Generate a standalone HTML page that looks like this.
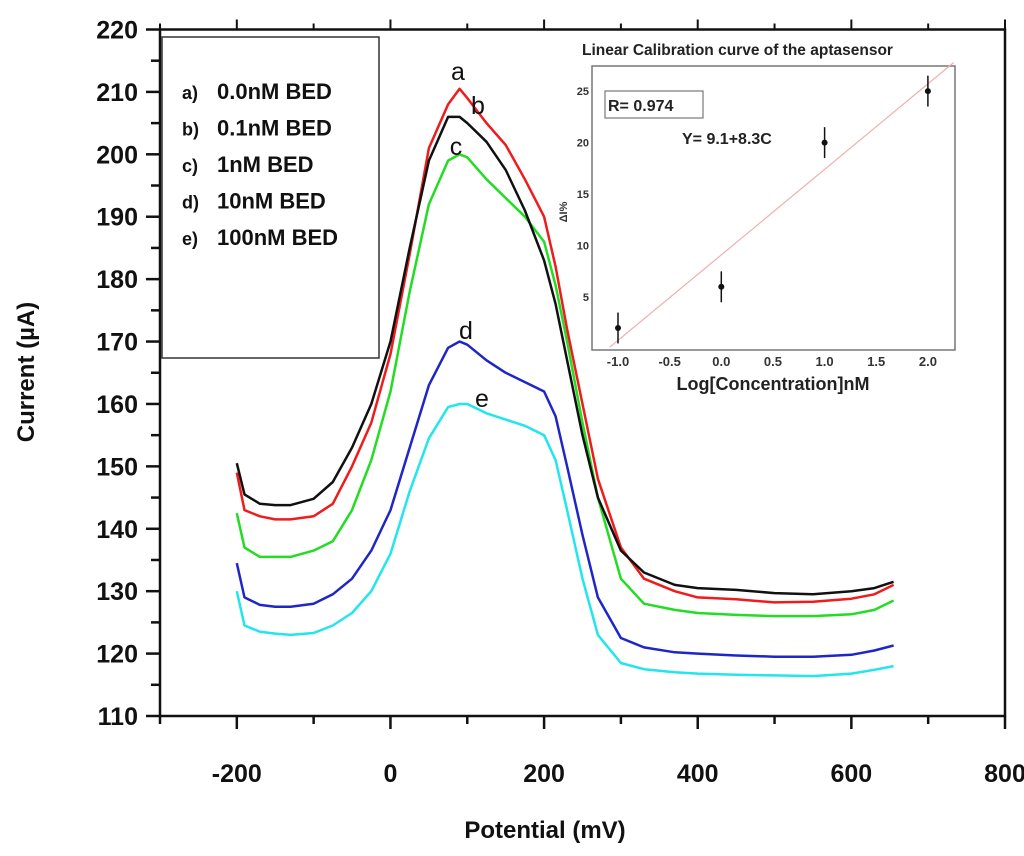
<!DOCTYPE html>
<html><head><meta charset="utf-8"><style>
body{margin:0;background:#fff;}
svg{display:block;font-family:"Liberation Sans",sans-serif;}
</style></head><body>
<svg id="chart" width="1024" height="856" viewBox="0 0 1024 856">
<g id="main"></g>
<g id="inset"></g>
</svg>
<script>
const potentials=[-200,-190,-170,-150,-130,-100,-75,-50,-25,0,25,50,75,90,100,125,150,175,200,215,230,250,270,300,330,370,400,450,500,550,600,630,655];
const seriesA=[149,143,142,141.5,141.5,142,144,150,157,168,184,201,208,210.5,209,205,201.5,196,190,182,172,160,148,137,132,130,129,128.7,128.2,128.3,128.8,129.5,131];
const seriesB=[150.5,145.5,144,143.8,143.8,144.8,147.5,153,160,170,185,199,206,206,205,202,197.5,191,183,176,167,155,145,136.5,133,131,130.5,130.2,129.7,129.5,130,130.5,131.5];
const seriesC=[142.5,137,135.5,135.5,135.5,136.5,138,143,151,162,178,192,199,200,199.5,196,193,190,186,179,170,157,145,132,128,127,126.5,126.2,126,126,126.3,127,128.5];
const seriesD=[134.5,129,127.8,127.5,127.5,128,129.5,132,136.5,143,153,163,169,170,169.5,167,165,163.5,162,158,150,139,129,122.5,121,120.2,120,119.7,119.5,119.5,119.8,120.5,121.3];
const seriesE=[130,124.5,123.5,123.2,123,123.3,124.5,126.5,130,136,146,154.5,159.5,160,160,158.5,157.5,156.5,155,151,143,132,123,118.5,117.5,117,116.8,116.6,116.5,116.4,116.8,117.4,118];
const xTicks=[-200,0,200,400,600,800];
const yTicks=[110,120,130,140,150,160,170,180,190,200,210,220];
const legendLabels=["0.0nM BED","0.1nM BED","1nM BED","10nM BED","100nM BED"];
const legendKeys=["a)","b)","c)","d)","e)"];
const insetX=[-1,0,1,2];
const insetY=[2,6,20,25];
const insetErr=[1.5,1.5,1.5,1.5];
const insetXTicks=[-1.0,-0.5,0.0,0.5,1.0,1.5,2.0];
const insetYTicks=[5,10,15,20,25];
const fitIntercept=9.1, fitSlope=8.3;

const NS="http://www.w3.org/2000/svg";
function mk(parent,tag,attrs,text){const e=document.createElementNS(NS,tag);for(const k in attrs)e.setAttribute(k,attrs[k]);if(text!==undefined)e.textContent=text;parent.appendChild(e);return e;}
const X0=160,X1=1005,Y0=716,Y1=29.5;
const xs=v=>X0+(v+300)/1100*(X1-X0);
const ys=v=>Y0-(v-110)/110*(Y0-Y1);
const g=document.getElementById('main');

let fr=mk(g,'rect',{x:X0,y:Y1,width:X1-X0,height:Y0-Y1,fill:'none',stroke:'#111','stroke-width':2.5});


for(let v=110;v<=220;v+=5){
  const major=v%10===0;
  let t=mk(g,'line',{x1:X0-(major?14:9),x2:X0,y1:ys(v),y2:ys(v),stroke:'#111','stroke-width':2.5});
  
  
}
yTicks.forEach(v=>{
  let t=mk(g,'text',{x:138,y:ys(v)+9,'text-anchor':'end','font-size':25,'font-weight':'bold',fill:'#111'},v);
  
  
});
for(let v=-300;v<=800;v+=100){
  const major=v%200===0;
  let t=mk(g,'line',{x1:xs(v),x2:xs(v),y1:Y0,y2:Y0+(major?13:8),stroke:'#111','stroke-width':2.5});
  
  
  let t2=mk(g,'line',{x1:xs(v),x2:xs(v),y1:Y1,y2:Y1-(major?10:6),stroke:'#111','stroke-width':2});
  
  
}
xTicks.forEach(v=>{
  let t=mk(g,'text',{x:xs(v),y:782,'text-anchor':'middle','font-size':25,'font-weight':'bold',fill:'#111'},v);
  
  
});
let xt=mk(g,'text',{x:545,y:838,'text-anchor':'middle','font-size':24,'font-weight':'bold',fill:'#111'},'Potential (mV)');


let yt=mk(g,'text',{x:0,y:0,transform:'translate(34,372) rotate(-90)','text-anchor':'middle','font-size':24,'font-weight':'bold',fill:'#111'},'Current (\u00b5A)');



let lb=mk(g,'rect',{x:162,y:37,width:217,height:321,fill:'#fff',stroke:'#333','stroke-width':1.5});


legendLabels.forEach((l,i)=>{
  const y=99+i*36.5;
  let k=mk(g,'text',{x:182,y:y,'font-size':18,'font-weight':'bold',fill:'#111'},legendKeys[i]);
  
  
  let t=mk(g,'text',{x:217,y:y,'font-size':22,'font-weight':'bold',fill:'#111'},l);
  
  
});

const series=[[seriesE,'#22e5ee','series-e'],[seriesD,'#1f26c8','series-d'],[seriesC,'#22dd22','series-c'],[seriesA,'#ee1c1c','series-a'],[seriesB,'#111111','series-b']];
series.forEach(([vals,col,name])=>{
  const d=vals.map((v,i)=>(i?'L':'M')+xs(potentials[i]).toFixed(1)+','+ys(v).toFixed(1)).join(' ');
  let p=mk(g,'path',{d:d,fill:'none',stroke:col,'stroke-width':2.5,'stroke-linejoin':'round'});
  
  
});
[['a',458,80],['b',478,114],['c',456,155],['d',466,339],['e',482,407]].forEach(([s,x,y])=>{
  let t=mk(g,'text',{x:x,y:y,'font-size':25,fill:'#111','text-anchor':'middle'},s);
  
  
});

const gi=document.getElementById('inset');
const IX0=592,IX1=955,IY0=350,IY1=66;
const ixs=v=>618+(v+1)*103.3;
const iys=v=>348.6-v*10.3;
let ttl=mk(gi,'text',{x:582,y:55,'font-size':15.5,'font-weight':'bold',fill:'#222'},'Linear Calibration curve of the aptasensor');


let ifr=mk(gi,'rect',{x:IX0,y:IY1,width:IX1-IX0,height:IY0-IY1,fill:'#fff',stroke:'#777','stroke-width':1.5});


insetYTicks.forEach(v=>{
  let t=mk(gi,'text',{x:589,y:iys(v)+4,'text-anchor':'end','font-size':11,'font-weight':'bold',fill:'#333'},v);
  
  
});
insetXTicks.forEach(v=>{
  let t=mk(gi,'text',{x:ixs(v),y:366,'text-anchor':'middle','font-size':13,'font-weight':'bold',fill:'#333'},v.toFixed(1));
  
  
});
let ixt=mk(gi,'text',{x:773,y:390,'text-anchor':'middle','font-size':18,'font-weight':'bold',fill:'#222'},'Log[Concentration]nM');


let iyt=mk(gi,'text',{x:0,y:0,transform:'translate(567,212) rotate(-90)','text-anchor':'middle','font-size':11,'font-weight':'bold',fill:'#333'},'\u0394I%');


const fx0=-1.08,fx1=2.25;
let fl=mk(gi,'line',{x1:ixs(fx0),y1:iys(fitIntercept+fitSlope*fx0),x2:ixs(fx1),y2:iys(fitIntercept+fitSlope*fx1),stroke:'#f0b0b0','stroke-width':1.2});


insetX.forEach((v,i)=>{
  let eb=mk(gi,'line',{x1:ixs(v),x2:ixs(v),y1:iys(insetY[i]-insetErr[i]),y2:iys(insetY[i]+insetErr[i]),stroke:'#111','stroke-width':1.5});
  
  
  let c=mk(gi,'circle',{cx:ixs(v),cy:iys(insetY[i]),r:3,fill:'#111'});
  
  
});
let rb=mk(gi,'rect',{x:605,y:91,width:98,height:27,fill:'#fff',stroke:'#777','stroke-width':1.2});


let rt=mk(gi,'text',{x:608,y:111,'font-size':16,'font-weight':'bold',fill:'#222'},'R= 0.974');


let et=mk(gi,'text',{x:682,y:144,'font-size':16,'font-weight':'bold',fill:'#222'},'Y= 9.1+8.3C');


</script>
</body></html>
